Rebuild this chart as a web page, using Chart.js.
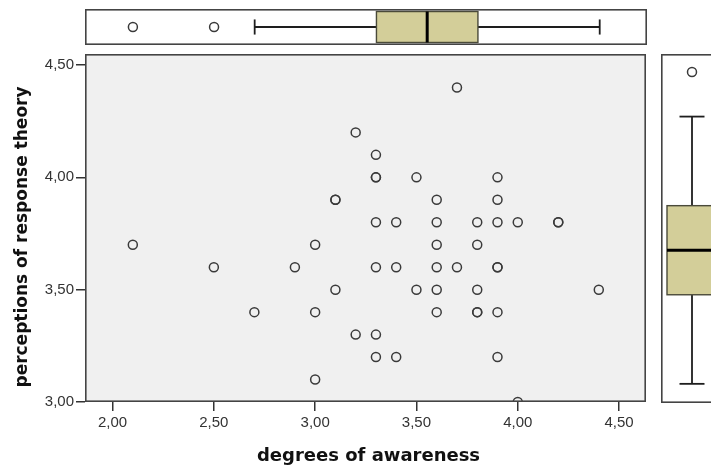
<!DOCTYPE html>
<html>
<head>
<meta charset="utf-8">
<script src="https://cdn.jsdelivr.net/npm/chart.js@4"></script>
<style>
html, body { margin: 0; padding: 0; background: #fff; width: 711px; height: 468px; overflow: hidden; }
canvas { position: absolute; }
</style>
</head>
<body>
<canvas id="main" width="711" height="468" style="left:0;top:0"></canvas>
<canvas id="topBox" width="562" height="36" style="left:85px;top:9px"></canvas>
<canvas id="rightBox" width="50" height="349" style="left:661px;top:54px"></canvas>
<script>
// ---- data ----
const awareness = [2.1, 2.5, 2.7, 2.9, 3.0, 3.0, 3.0, 3.1, 3.1, 3.1, 3.2, 3.2,
  3.3, 3.3, 3.3, 3.3, 3.3, 3.3, 3.3, 3.4, 3.4, 3.4, 3.5, 3.5,
  3.6, 3.6, 3.6, 3.6, 3.6, 3.6, 3.7, 3.7, 3.8, 3.8, 3.8, 3.8, 3.8,
  3.9, 3.9, 3.9, 3.9, 3.9, 3.9, 3.9, 4.0, 4.0, 4.2, 4.2, 4.4];
const theory = [3.7, 3.6, 3.4, 3.6, 3.7, 3.4, 3.1, 3.9, 3.9, 3.5, 4.2, 3.3,
  4.1, 4.0, 4.0, 3.8, 3.6, 3.3, 3.2, 3.8, 3.6, 3.2, 4.0, 3.5,
  3.9, 3.8, 3.7, 3.6, 3.5, 3.4, 4.4, 3.6, 3.8, 3.7, 3.5, 3.4, 3.4,
  4.0, 3.9, 3.8, 3.6, 3.6, 3.4, 3.2, 3.8, 3.0, 3.8, 3.8, 3.5];

const xTicks = [2.0, 2.5, 3.0, 3.5, 4.0, 4.5];
const yTicks = [3.0, 3.5, 4.0, 4.5];

// boxplot stats: low whisker, Q1, median, Q3, high whisker
const awarenessBox = [2.7, 3.3, 3.55, 3.8, 4.4];
const awarenessOutliers = [2.1, 2.5];
const theoryBox = [3.0, 3.4, 3.6, 3.8, 4.2];
const theoryOutliers = [4.4];

const xTitle = 'degrees of awareness';
const yTitle = 'perceptions of response theory';

// ---- helpers ----
const fmt = v => v.toFixed(2).replace('.', ',');
const tickFont = { family: 'Liberation Sans, Arial, sans-serif', size: 15 };
const lineCol = '#444';
const xMin = 1.864, xMax = 4.633;

const pointStyle = {
  pointRadius: 4.5,
  pointBorderWidth: 1.5,
  pointBorderColor: '#3a3a3a',
  pointBackgroundColor: 'rgba(0,0,0,0)',
  showLine: false
};

// frame + background of each panel
const framePlugin = {
  id: 'frame',
  beforeDraw(chart, args, o) {
    const a = chart.chartArea, ctx = chart.ctx;
    if (o.fill) {
      ctx.save();
      ctx.fillStyle = o.fill;
      ctx.fillRect(a.left, a.top, a.right - a.left, a.bottom - a.top);
      ctx.restore();
    }
  },
  afterDraw(chart, args, o) {
    const a = chart.chartArea, ctx = chart.ctx;
    ctx.save();
    ctx.strokeStyle = lineCol;
    ctx.lineWidth = 1.6;
    const ext = o.openRight ? 10 : 0;
    ctx.strokeRect(a.left + 0.8, a.top + 0.8, a.right - a.left - 1.6 + ext, a.bottom - a.top - 1.6);
    ctx.restore();
  }
};

// draws one boxplot through the chart's scales
const boxPlugin = {
  id: 'box',
  beforeDatasetsDraw(chart, args, o) {
    if (!o.stats) return;
    const ctx = chart.ctx;
    const [lo, q1, med, q3, hi] = o.stats;
    const vs = o.horizontal ? chart.scales.x : chart.scales.y;
    const ps = o.horizontal ? chart.scales.y : chart.scales.x;
    const v = t => vs.getPixelForValue(t);
    const p = t => ps.getPixelForValue(t);
    const seg = (a, b, c, d) => {
      ctx.beginPath();
      if (o.horizontal) { ctx.moveTo(v(a), p(b)); ctx.lineTo(v(c), p(d)); }
      else { ctx.moveTo(p(b), v(a)); ctx.lineTo(p(d), v(c)); }
      ctx.stroke();
    };
    ctx.save();
    ctx.strokeStyle = '#1e1e1e';
    ctx.lineWidth = 1.8;
    seg(lo, 0, q1, 0);
    seg(q3, 0, hi, 0);
    seg(lo, -o.cap, lo, o.cap);
    seg(hi, -o.cap, hi, o.cap);
    // box
    let bx, by, bw, bh;
    if (o.horizontal) { bx = v(q1); bw = v(q3) - v(q1); by = p(o.half); bh = p(-o.half) - p(o.half); }
    else { bx = p(-o.half); bw = p(o.half) - p(-o.half); by = v(q3); bh = v(q1) - v(q3); }
    ctx.fillStyle = '#d3ce99';
    ctx.fillRect(bx, by, bw, bh);
    ctx.strokeStyle = '#4a4a3a';
    ctx.lineWidth = 1.4;
    ctx.strokeRect(bx, by, bw, bh);
    // median
    ctx.strokeStyle = '#000';
    ctx.lineWidth = 3;
    seg(med, -o.half, med, o.half);
    ctx.restore();
  }
};

// axis titles
const titlePlugin = {
  id: 'titles',
  afterDraw(chart, args, o) {
    if (!o.x) return;
    const ctx = chart.ctx, a = chart.chartArea;
    ctx.save();
    ctx.fillStyle = '#111';
    ctx.textAlign = 'center';
    ctx.textBaseline = 'middle';
    ctx.font = 'bold 18px "DejaVu Sans", Verdana, sans-serif';
    ctx.fillText(o.x, (a.left + a.right) / 2 + 3, 456);
    ctx.font = 'bold 17px "DejaVu Sans", Verdana, sans-serif';
    ctx.translate(23, 237);
    ctx.rotate(-Math.PI / 2);
    ctx.fillText(o.y, 0, 0);
    ctx.restore();
  }
};

Chart.register(framePlugin, boxPlugin, titlePlugin);

const base = {
  responsive: false,
  animation: false,
  events: [],
  plugins: { legend: { display: false }, tooltip: { enabled: false } }
};

// ---- main scatter ----
new Chart(document.getElementById('main'), {
  type: 'scatter',
  data: {
    datasets: [{
      data: awareness.map((x, i) => ({ x: x, y: theory[i] })),
      clip: 0,
      ...pointStyle
    }]
  },
  options: {
    ...base,
    layout: { autoPadding: false, padding: { top: 54, right: 65, left: 0, bottom: 0 } },
    plugins: {
      ...base.plugins,
      frame: { fill: '#f0f0f0' },
      titles: { x: xTitle, y: yTitle }
    },
    scales: {
      x: {
        type: 'linear', position: 'bottom', min: xMin, max: xMax,
        afterFit: s => { s.height = 66; },
        afterBuildTicks: s => { s.ticks = xTicks.map(v => ({ value: v })); },
        ticks: { callback: v => fmt(v), color: '#333', font: tickFont, padding: 3, maxRotation: 0, autoSkip: false },
        grid: { drawOnChartArea: false, tickLength: 9, color: '#333', lineWidth: 1.5 },
        border: { display: false }
      },
      y: {
        type: 'linear', position: 'left', min: 3.0, max: 4.549,
        afterFit: s => { s.width = 85; },
        afterBuildTicks: s => { s.ticks = yTicks.map(v => ({ value: v })); },
        ticks: { callback: v => fmt(v), color: '#333', font: tickFont, padding: 2, autoSkip: false },
        grid: { drawOnChartArea: false, tickLength: 9, color: '#333', lineWidth: 1.5 },
        border: { display: false }
      }
    }
  }
});

// ---- top boxplot (awareness), shares the x range of the scatter ----
new Chart(document.getElementById('topBox'), {
  type: 'scatter',
  data: { datasets: [{ data: awarenessOutliers.map(x => ({ x: x, y: 0 })), ...pointStyle }] },
  options: {
    ...base,
    layout: { autoPadding: false, padding: 0 },
    plugins: { ...base.plugins, frame: {}, box: { stats: awarenessBox, horizontal: true, half: 0.86, cap: 0.42 } },
    scales: {
      x: { type: 'linear', min: xMin, max: xMax, display: false },
      y: { type: 'linear', min: -1, max: 1, display: false }
    }
  }
});

// ---- right boxplot (theory) ----
new Chart(document.getElementById('rightBox'), {
  type: 'scatter',
  data: { datasets: [{ data: theoryOutliers.map(y => ({ x: 0, y: y })), ...pointStyle }] },
  options: {
    ...base,
    layout: { autoPadding: false, padding: 0 },
    plugins: { ...base.plugins, frame: { openRight: true }, box: { stats: theoryBox, horizontal: false, half: 1.0, cap: 0.5 } },
    scales: {
      x: { type: 'linear', min: -1.24, max: 0.76, display: false },
      y: { type: 'linear', min: 2.914, max: 4.481, display: false }
    }
  }
});
</script>
</body>
</html>
